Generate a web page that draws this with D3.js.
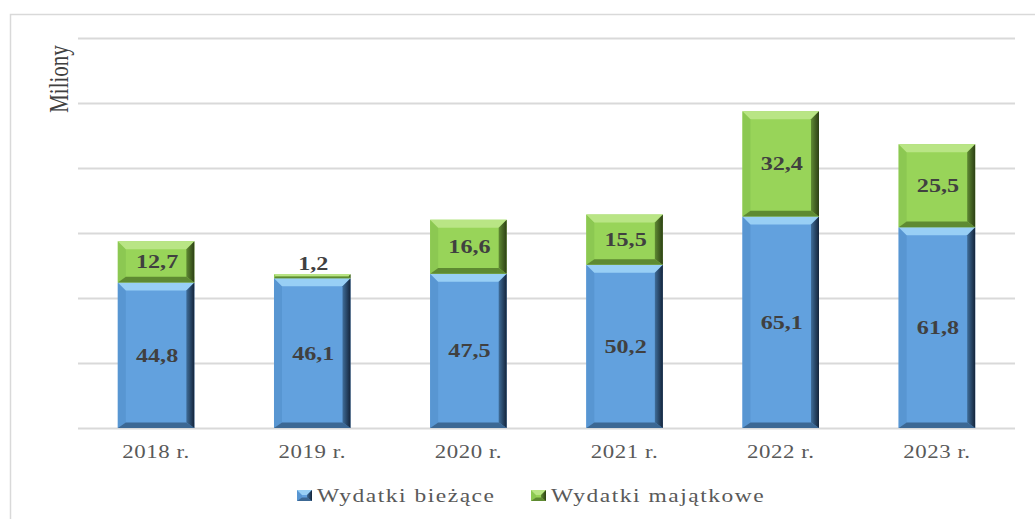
<!DOCTYPE html>
<html lang="pl">
<head>
<meta charset="UTF-8">
<title>Wydatki</title>
<script src="https://d3js.org/d3.v7.min.js"></script>
<style>
  body { margin: 0; background: #fff; }
  svg text { font-family: "Liberation Serif", "Times New Roman", serif; }
</style>
</head>
<body>
<div id="chart"></div>
<script>
var years = ["2018 r.", "2019 r.", "2020 r.", "2021 r.", "2022 r.", "2023 r."];
var biezace = [44.8, 46.1, 47.5, 50.2, 65.1, 61.8];
var majatkowe = [12.7, 1.2, 16.6, 15.5, 32.4, 25.5];
var seriesNames = ["Wydatki bieżące", "Wydatki majątkowe"];
var gridTicks = [0, 20, 40, 60, 80, 100, 120];

var W = 1035, H = 519;
var plot = {left: 78, right: 1015, top: 38, bottom: 428};
var SX = 1.27; // text in the original is stretched horizontally

var svg = d3.select("#chart").append("svg")
    .attr("width", W).attr("height", H);

var defs = svg.append("defs");

var palettes = [
  {id: "b", face: "#62a1de", top: "#98cff5", left: "#5896d2", r0: "#3f6d99", r1: "#14243a", bottom: "#3c6894"},
  {id: "g", face: "#98d459", top: "#b9e585", left: "#8cc852", r0: "#5f8a33", r1: "#2c3f14", bottom: "#5e8a32"}
];
palettes.forEach(p => {
  var gr = defs.append("linearGradient").attr("id", "right-" + p.id)
      .attr("x1", "0%").attr("x2", "100%").attr("y1", "0%").attr("y2", "0%");
  gr.append("stop").attr("offset", "0%").attr("stop-color", p.r0);
  gr.append("stop").attr("offset", "100%").attr("stop-color", p.r1);
});

// frame
svg.append("path")
    .attr("d", "M10.5," + H + "V14.5H" + W)
    .attr("fill", "none").attr("stroke", "#d9d9d9").attr("stroke-width", 1.5);

var x = d3.scaleBand().domain(years).range([plot.left, plot.right]).paddingInner(0.51).paddingOuter(0.255);
var y = d3.scaleLinear().domain([0, 120]).range([plot.bottom, plot.top]);

// gridlines
svg.append("g").selectAll("line").data(gridTicks).join("line")
    .attr("x1", plot.left).attr("x2", plot.right)
    .attr("y1", d => Math.round(y(d)) + 0.5).attr("y2", d => Math.round(y(d)) + 0.5)
    .attr("stroke", "#d9d9d9").attr("stroke-width", 2);

function bevelBar(g, x0, y0, w, h, pal, size) {
  var b = Math.min(size, h / 2, w / 2);
  var bb = Math.min(size * 0.7, h / 2);
  var x1 = x0 + w, y1 = y0 + h;
  function poly(pts, fill) {
    g.append("polygon").attr("points", pts.map(p => p.join(",")).join(" ")).attr("fill", fill);
  }
  poly([[x0, y0], [x1, y0], [x1, y1], [x0, y1]], pal.face);
  poly([[x0, y0], [x0 + b, y0 + b], [x0 + b, y1 - bb], [x0, y1]], pal.left);
  poly([[x0, y1], [x1, y1], [x1 - b, y1 - bb], [x0 + b, y1 - bb]], pal.bottom);
  poly([[x0, y0], [x1, y0], [x1 - b, y0 + b], [x0 + b, y0 + b]], pal.top);
  poly([[x1, y0], [x1, y1], [x1 - b, y1 - bb], [x1 - b, y0 + b]], "url(#right-" + pal.id + ")");
}

var stacks = years.map((yr, i) => [
  {v0: 0, v1: biezace[i], v: biezace[i]},
  {v0: biezace[i], v1: biezace[i] + majatkowe[i], v: majatkowe[i]}
]);

var fmt = v => v.toFixed(1).replace(".", ",");

var bars = svg.append("g");
years.forEach((yr, i) => {
  stacks[i].forEach((s, k) => {
    var g = bars.append("g");
    var top = y(s.v1), bot = y(s.v0);
    bevelBar(g, x(yr), top, x.bandwidth(), bot - top, palettes[k], 8);
  });
});

function stretched(parent, tx, ty) {
  return parent.append("text")
    .attr("transform", "translate(" + tx + "," + ty + ") scale(" + SX + ",1)");
}

// value labels
var labels = svg.append("g")
    .attr("font-size", 19).attr("font-weight", "bold").attr("fill", "#404040")
    .attr("text-anchor", "middle");
years.forEach((yr, i) => {
  stacks[i].forEach((s, k) => {
    var cy = (y(s.v1) + y(s.v0)) / 2;
    if (y(s.v0) - y(s.v1) < 20) cy = y(s.v1) - 11;
    stretched(labels, x(yr) + x.bandwidth() / 2 + 1, cy + 6.5)
      .text(fmt(s.v));
  });
});

// x axis labels
var xl = svg.append("g").attr("text-anchor", "middle").attr("font-size", 18).attr("fill", "#595959")
    .attr("letter-spacing", 0.45);
years.forEach(d => {
  stretched(xl, x(d) + x.bandwidth() / 2, 458).text(d);
});

// y axis title
svg.append("text")
    .attr("transform", "translate(68,79) scale(" + SX + ",1) rotate(-90)")
    .attr("text-anchor", "middle").attr("font-size", 21).attr("fill", "#404040")
    .text("Miliony");

// legend
var legend = svg.append("g").attr("font-size", 18.5).attr("fill", "#595959")
    .attr("letter-spacing", 1.2);
var legX = [297, 531];
seriesNames.forEach((name, k) => {
  var g = legend.append("g");
  bevelBar(g, legX[k], 490, 15, 11, palettes[k], 5);
  stretched(g, legX[k] + 20, 502).text(name);
});
</script>
</body>
</html>
